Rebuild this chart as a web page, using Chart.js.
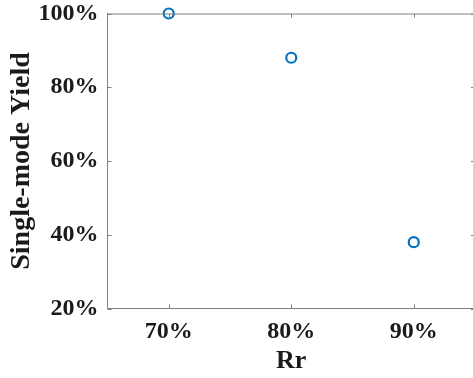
<!DOCTYPE html>
<html>
<head>
<meta charset="utf-8">
<script src="https://cdn.jsdelivr.net/npm/chart.js@4/dist/chart.umd.min.js"></script>
<style>
  html, body { margin: 0; padding: 0; background: #fff; overflow: hidden; }
  #wrap { width: 478px; height: 378px; position: relative; }
</style>
</head>
<body>
<div id="wrap"><canvas id="c"></canvas></div>
<script>
// Ratio of ring radius (Rr) against single-mode yield
const rrValues = [70, 80, 90];
const yieldValues = [100, 88, 38];
const xTickValues = [70, 80, 90];
const yTickValues = [20, 40, 60, 80, 100];

const AXIS_COLOR = '#808080';
const TEXT_COLOR = '#1a1a1a';
const FONT = "'Liberation Serif', 'Times New Roman', Times, serif";

// Inward ticks on all four sides plus the top frame line
const frameTicks = {
  id: 'frameTicks',
  afterDraw(chart) {
    const { ctx, chartArea: a, scales: { x, y } } = chart;
    const len = 4;
    ctx.save();
    ctx.strokeStyle = AXIS_COLOR;
    ctx.lineWidth = 1;
    ctx.beginPath();
    ctx.moveTo(a.left, a.top + 0.5);
    ctx.lineTo(a.right, a.top + 0.5);
    x.ticks.forEach(t => {
      const px = Math.round(x.getPixelForValue(t.value)) + 0.5;
      ctx.moveTo(px, a.bottom); ctx.lineTo(px, a.bottom - len);
      ctx.moveTo(px, a.top); ctx.lineTo(px, a.top + len);
    });
    y.ticks.forEach(t => {
      const py = Math.round(y.getPixelForValue(t.value)) + 0.5;
      ctx.moveTo(a.left, py); ctx.lineTo(a.left + len, py);
      ctx.moveTo(a.right, py); ctx.lineTo(a.right - len, py);
    });
    ctx.stroke();
    ctx.restore();
  }
};

function draw() {
  new Chart(document.getElementById('c'), {
    type: 'scatter',
    data: {
      datasets: [{
        data: rrValues.map((v, i) => ({ x: v, y: yieldValues[i] })),
        pointRadius: 5,
        pointHoverRadius: 5,
        pointBorderWidth: 2.2,
        pointBorderColor: '#0072BD',
        pointBackgroundColor: 'rgba(0,0,0,0)',
        showLine: false,
        clip: false
      }]
    },
    options: {
      responsive: true,
      maintainAspectRatio: false,
      animation: false,
      events: [],
      layout: {
        autoPadding: false,
        padding: { top: 13.5, right: 3, bottom: 1, left: 2 }
      },
      plugins: { legend: { display: false }, tooltip: { enabled: false } },
      scales: {
        x: {
          type: 'linear',
          min: 65,
          max: 95,
          afterBuildTicks: s => { s.ticks = xTickValues.map(v => ({ value: v })); },
          afterFit: s => { s.height = 68.5; s.paddingLeft = 0; s.paddingRight = 0; },
          grid: { display: false, drawTicks: false },
          border: { display: true, color: AXIS_COLOR, width: 1 },
          ticks: {
            padding: 9,
            color: TEXT_COLOR,
            font: { family: FONT, size: 24, weight: 'bold' },
            callback: v => v + '%'
          },
          title: {
            display: true,
            text: 'Rr',
            color: TEXT_COLOR,
            font: { family: FONT, size: 26, weight: 'bold' },
            padding: { top: 0, bottom: 0 }
          }
        },
        y: {
          type: 'linear',
          min: 20,
          max: 100,
          afterBuildTicks: s => { s.ticks = yTickValues.map(v => ({ value: v })); },
          afterFit: s => { s.width = 105.5; s.paddingTop = 0; s.paddingBottom = 0; },
          grid: { display: false, drawTicks: false },
          border: { display: true, color: AXIS_COLOR, width: 1 },
          ticks: {
            padding: 9,
            color: TEXT_COLOR,
            font: { family: FONT, size: 24, weight: 'bold' },
            callback: v => v + '%'
          },
          title: {
            display: true,
            text: 'Single-mode Yield',
            color: TEXT_COLOR,
            font: { family: FONT, size: 28, weight: 'bold' },
            padding: { top: 3, bottom: 4 }
          }
        }
      }
    },
    plugins: [frameTicks]
  });
}

if (document.fonts && document.fonts.load) {
  Promise.all([
    document.fonts.load("bold 24px 'Liberation Serif'"),
    document.fonts.load("bold 28px 'Liberation Serif'")
  ]).then(draw, draw);
} else {
  draw();
}
</script>
</body>
</html>
